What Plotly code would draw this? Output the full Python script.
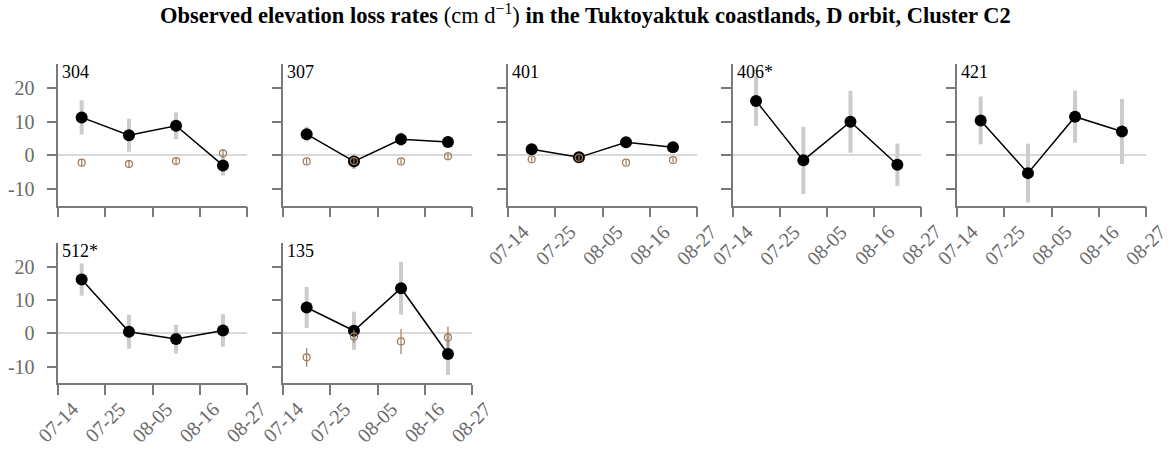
import plotly.graph_objects as go

# ---------------- data ----------------
dates = ["2022-07-19T11:00", "2022-07-30T12:00", "2022-08-10T12:00", "2022-08-21T11:00"]
tick_dates = ["2022-07-14", "2022-07-25", "2022-08-05", "2022-08-16", "2022-08-27"]
tick_text = ["07-14", "07-25", "08-05", "08-16", "08-27"]
y_ticks = [-10, 0, 10, 20]
y_tick_text = ["-10", "0", "10", "20"]

panels = ["304", "307", "401", "406*", "421", "512*", "135"]

obs_304 = [11.3, 6.0, 8.8, -3.0]
err_304 = [5.1, 4.9, 4.0, 3.0]
obs_307 = [6.3, -1.8, 4.8, 4.0]
err_307 = [2.2, 2.3, 2.0, 1.5]
obs_401 = [1.8, -0.6, 3.9, 2.4]
err_401 = [1.0, 0.9, 1.0, 0.9]
obs_406 = [16.2, -1.5, 10.0, -2.8]
err_406 = [7.5, 10.0, 9.2, 6.3]
obs_421 = [10.4, -5.3, 11.5, 7.1]
err_421 = [7.1, 8.75, 7.75, 9.7]
obs_512 = [16.2, 0.5, -1.7, 0.9]
err_512 = [4.85, 5.1, 4.3, 4.9]
obs_135 = [7.8, 0.8, 13.6, -6.2]
err_135 = [6.2, 5.7, 7.9, 6.3]

pred_304 = [-2.2, -2.6, -1.7, 0.6]
perr_304 = [1.0, 1.2, 1.0, 1.3]
pred_307 = [-1.8, -1.7, -1.8, -0.3]
perr_307 = [0.8, 0.8, 0.8, 0.8]
pred_401 = [-1.2, -0.7, -2.2, -1.4]
perr_401 = [0.7, 0.7, 0.7, 0.7]
pred_135 = [-7.2, -0.9, -2.4, -1.2]
perr_135 = [2.8, 2.0, 3.75, 3.2]

observed = [obs_304, obs_307, obs_401, obs_406, obs_421, obs_512, obs_135]
observed_err = [err_304, err_307, err_401, err_406, err_421, err_512, err_135]
predicted = [pred_304, pred_307, pred_401, None, None, None, pred_135]
predicted_err = [perr_304, perr_307, perr_401, None, None, None, perr_135]

# ---------------- layout geometry ----------------
W, H = 1170, 456
col_x0 = [58.3, 283.3, 508.3, 732.7, 957.3]
pw = 188.4
rows_px = [(64, 205.7), (243, 383.3)]  # top, bottom in pixels
label_drop = 39  # px from x-axis line to centre of rotated tick label

positions = [(0, 0), (0, 1), (0, 2), (0, 3), (0, 4), (1, 0), (1, 1)]

GRAY_LINE = "#7a7a7a"
GRAY_TEXT = "#6a6a6a"
FONT = "Liberation Serif"

fig = go.Figure()
layout_axes = {}
annotations = []

for i, name in enumerate(panels):
    r, c = positions[i]
    n = i + 1
    xa = "x" if n == 1 else f"x{n}"
    ya = "y" if n == 1 else f"y{n}"
    xkey = "xaxis" if n == 1 else f"xaxis{n}"
    ykey = "yaxis" if n == 1 else f"yaxis{n}"
    x0 = col_x0[c] / W
    x1 = (col_x0[c] + pw) / W
    top, bot = rows_px[r]
    y0 = (H - bot) / H
    y1 = (H - top) / H

    show_xlabels = not (r == 0 and c in (0, 1))
    show_ylabels = c == 0

    layout_axes[xkey] = dict(
        domain=[x0, x1], anchor=ya, type="date", automargin=False,
        range=["2022-07-14", "2022-08-27"],
        tickvals=tick_dates, showticklabels=False,
        ticks="outside", ticklen=10, tickwidth=1.5, tickcolor=GRAY_LINE,
        showline=True, linecolor=GRAY_LINE, linewidth=1.5,
        showgrid=False, zeroline=False,
    )
    layout_axes[ykey] = dict(
        domain=[y0, y1], anchor=xa, range=[-15, 27.2], automargin=False,
        tickvals=y_ticks, ticktext=y_tick_text,
        showticklabels=show_ylabels, ticklabelstandoff=8,
        ticks="outside", ticklen=10, tickwidth=1.5, tickcolor=GRAY_LINE,
        showline=True, linecolor=GRAY_LINE, linewidth=1.5,
        showgrid=False, zeroline=True, zerolinecolor="#d9d9d9", zerolinewidth=1.5,
        tickfont=dict(family=FONT, size=20, color=GRAY_TEXT),
    )

    # rotated x tick labels, positioned on the axis' own date scale
    if show_xlabels:
        for tv, tt in zip(tick_dates, tick_text):
            annotations.append(dict(
                text=tt, xref=xa, yref="paper", x=tv,
                y=(H - (bot + label_drop)) / H,
                xanchor="center", yanchor="middle", textangle=-45,
                showarrow=False,
                font=dict(family=FONT, size=20, color=GRAY_TEXT),
            ))

    fig.add_trace(go.Scatter(
        x=dates, y=observed[i], xaxis=xa, yaxis=ya,
        mode="lines+markers",
        line=dict(color="black", width=1.5),
        marker=dict(color="black", size=12),
        error_y=dict(type="data", array=observed_err[i], color="#cccccc",
                     thickness=4, width=0),
        showlegend=False, cliponaxis=False,
    ))
    if predicted[i] is not None:
        fig.add_trace(go.Scatter(
            x=dates, y=predicted[i], xaxis=xa, yaxis=ya,
            mode="markers",
            marker=dict(symbol="circle-open", color="#9d7b5c", size=7,
                        line=dict(width=1.2, color="#9d7b5c")),
            error_y=dict(type="data", array=predicted_err[i], color="#9d7b5c",
                         thickness=1.2, width=0),
            showlegend=False, cliponaxis=False,
        ))

    annotations.append(dict(
        text=name, xref="paper", yref="paper",
        x=(col_x0[c] + 2) / W, y=(H - top - 8) / H,
        xanchor="left", yanchor="middle", showarrow=False,
        font=dict(family=FONT, size=18, color="black"),
    ))

annotations.append(dict(
    text="<b>Observed elevation loss rates</b> (cm d<sup>−1</sup>) "
         "<b>in the Tuktoyaktuk coastlands, D orbit, Cluster C2</b>",
    xref="paper", yref="paper", x=585 / W, y=(H - 14) / H,
    xanchor="center", yanchor="middle", showarrow=False,
    font=dict(family=FONT, size=22.5, color="black"),
))

fig.update_layout(
    width=W, height=H,
    margin=dict(l=0, r=0, t=0, b=0),
    paper_bgcolor="white", plot_bgcolor="white",
    annotations=annotations,
    showlegend=False,
    **layout_axes,
)

fig.write_html("out.html")
